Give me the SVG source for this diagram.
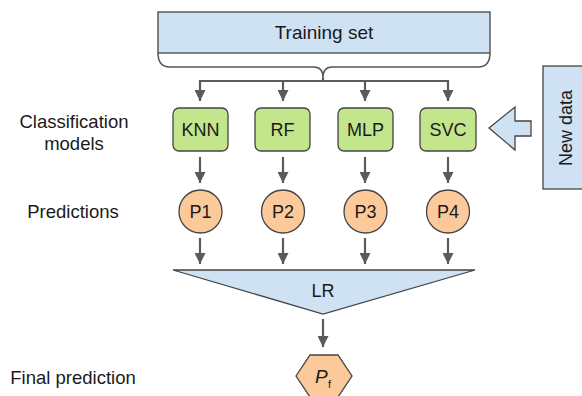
<svg xmlns="http://www.w3.org/2000/svg" width="582" height="396" viewBox="0 0 582 396">
<defs>
<marker id="ah" viewBox="0 0 10 10" refX="10" refY="5" markerWidth="11" markerHeight="11" markerUnits="userSpaceOnUse" orient="auto">
<path d="M0,0 L10,5 L0,10 z" fill="#5a5a5a"/>
</marker>
<style>
text{font-family:"Liberation Sans",Arial,sans-serif;fill:#1a1a1a;}
.lbl{font-size:18.5px;text-anchor:middle;}
.nt{font-size:18px;text-anchor:middle;dominant-baseline:central;}
.big{font-size:19px;}
.model{fill:#c3e58c;stroke:#444;stroke-width:1.3;}
.pred{fill:#fbc99a;stroke:#444;stroke-width:1.3;}
.blue{fill:#cfe2f3;stroke:#444;stroke-width:1.3;}
.conn line{stroke:#5a5a5a;stroke-width:2.2;marker-end:url(#ah);}
</style>
</defs>
<rect width="582" height="396" fill="#fff"/>
<g id="labels">
<text class="lbl" x="74" y="128">Classification</text>
<text class="lbl" x="74" y="150">models</text>
<text class="lbl" x="73" y="218">Predictions</text>
<text class="lbl" x="73" y="384">Final prediction</text>
</g>
<g id="training-set">
<rect class="blue" x="158" y="12" width="332" height="41"/>
<text class="nt big" x="324" y="32">Training set</text>
<path d="M158,53 Q158,67 170,67 L314,67 Q323,67 323,78 Q323,67 332,67 L478,67 Q490,67 490,53" fill="none" stroke="#555" stroke-width="1.5"/>
</g>
<g class="conn" id="connectors">
<path d="M323,78 L323,81 M200,81 L448,81" stroke="#5a5a5a" stroke-width="2.2" fill="none"/>
<line x1="200" y1="80" x2="200" y2="101"/>
<line x1="283" y1="80" x2="283" y2="101"/>
<line x1="365" y1="80" x2="365" y2="101"/>
<line x1="448" y1="80" x2="448" y2="101"/>
<line x1="200" y1="157" x2="200" y2="183"/>
<line x1="283" y1="157" x2="283" y2="183"/>
<line x1="365" y1="157" x2="365" y2="183"/>
<line x1="448" y1="157" x2="448" y2="183"/>
<line x1="200" y1="238" x2="200" y2="264"/>
<line x1="283" y1="238" x2="283" y2="264"/>
<line x1="365" y1="238" x2="365" y2="264"/>
<line x1="448" y1="238" x2="448" y2="264"/>
<line x1="323" y1="319" x2="323" y2="347"/>
</g>
<g id="knn"><rect class="model" x="173" y="108" width="55" height="43" rx="6"/><text class="nt" x="200.5" y="130">KNN</text></g>
<g id="rf"><rect class="model" x="255" y="108" width="55" height="43" rx="6"/><text class="nt" x="282.5" y="130">RF</text></g>
<g id="mlp"><rect class="model" x="338" y="108" width="55" height="43" rx="6"/><text class="nt" x="365.5" y="130">MLP</text></g>
<g id="svc"><rect class="model" x="420" y="108" width="56" height="43" rx="6"/><text class="nt" x="448" y="130">SVC</text></g>
<g id="p1"><circle class="pred" cx="200.5" cy="211.5" r="21.5"/><text class="nt" x="200.5" y="212">P1</text></g>
<g id="p2"><circle class="pred" cx="283" cy="211.5" r="21.5"/><text class="nt" x="283" y="212">P2</text></g>
<g id="p3"><circle class="pred" cx="365.5" cy="211.5" r="21.5"/><text class="nt" x="365.5" y="212">P3</text></g>
<g id="p4"><circle class="pred" cx="448" cy="211.5" r="21.5"/><text class="nt" x="448" y="212">P4</text></g>
<g id="lr">
<polygon class="blue" points="173,270 475,270 323,314"/>
<text class="nt" x="323" y="291">LR</text>
</g>
<g id="pf">
<polygon class="pred" points="296,376 310,355 338,355 352,376 338,397 310,397"/>
<text x="315" y="383" font-size="19" font-style="italic">P</text><text x="328" y="388" font-size="11">f</text>
</g>
<g id="new-data">
<rect class="blue" x="543" y="66" width="45" height="123"/>
<text class="nt" transform="translate(566,128) rotate(-90)" x="0" y="0">New data</text>
<polygon class="blue" points="489,128 515,107 515,121 531,121 531,136 515,136 515,150"/>
</g>
</svg>
